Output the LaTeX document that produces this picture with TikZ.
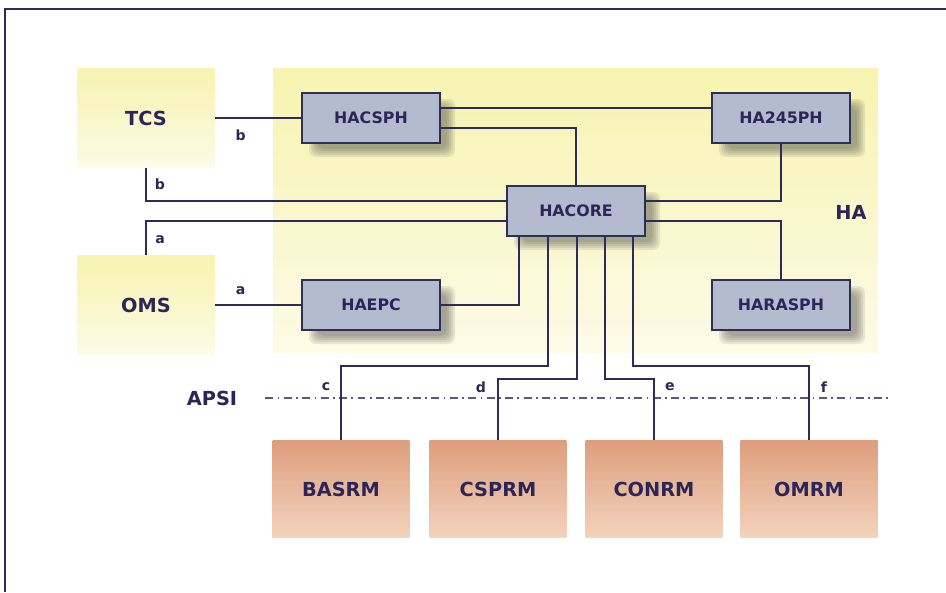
\documentclass[tikz,border=0pt]{standalone}
\usepackage{fontspec}
\setmainfont{DejaVu Sans}
\usetikzlibrary{calc}
\definecolor{linecol}{HTML}{2D2B58}
\definecolor{txtcol}{HTML}{2B2558}
\definecolor{boxgray}{HTML}{B5BBCE}
\definecolor{boxedge}{HTML}{2D2F55}
\definecolor{ylwtop}{HTML}{F7F3B0}
\definecolor{ylwbot}{HTML}{FCFBE6}
\definecolor{rmtop}{HTML}{DE9E7E}
\definecolor{rmbot}{HTML}{F2D3BC}
\definecolor{apsicol}{HTML}{555A7E}
\tikzset{
	subbox/.style={draw=boxedge, line width=1.6pt, fill=boxgray, minimum width=2.76cm, minimum height=1cm, inner sep=0pt,
		font=\fontsize{9}{10}\selectfont\bfseries, text=txtcol},
	shadowlayer/.style={fill=black!80, opacity=0.1, rounded corners=4pt},
	extbox/.style={top color=ylwtop, bottom color=ylwbot, minimum width=2.74cm, minimum height=1.98cm, inner sep=0pt,
		font=\fontsize{11}{12}\selectfont\bfseries, text=txtcol},
	rmbox/.style={top color=rmtop, bottom color=rmbot, minimum width=2.74cm, minimum height=1.94cm, inner sep=0pt,
		font=\fontsize{11}{12}\selectfont\bfseries, text=txtcol},
	conn/.style={draw=linecol, line width=1.2pt},
	tag/.style={font=\fontsize{8}{9}\selectfont\bfseries, text=txtcol, inner sep=0pt},
}
\begin{document}
\begin{tikzpicture}[x=0.02cm, y=0.02cm]
	\useasboundingbox (0,0) rectangle (946,-592);
	% 画边框
	\draw[draw=boxedge, line width=1pt] (946,-9) -- (5,-9) -- (5,-592);
	% 画HA区域
	\shade[top color=ylwtop, bottom color=ylwbot] (273,-68) rectangle (878,-352);
	\node[font=\fontsize{11}{12}\selectfont\bfseries, text=txtcol] (ha) at (851,-212) {HA};
	% 画外部模块
	\node[extbox] (tcs) at (146,-118) {TCS};
	\node[extbox] (oms) at (146,-305) {OMS};
	% 画HA子模块（带阴影）
	\foreach \n/\t/\x/\y in {hacsph/HACSPH/371/-118, haepc/HAEPC/371/-305, ha245ph/HA245PH/781/-118,
		harasph/HARASPH/781/-305, hacore/HACORE/576/-211} {
		\foreach \d in {-4,-2,0,2,4} {
			\fill[shadowlayer] (\x-69+11-\d, \y-25-10-\d) rectangle (\x+69+11+\d, \y+25-10+\d);
		}
		\node[subbox] (\n) at (\x,\y) {\t};
	}
	% 画RM模块
	\foreach \n/\t/\x in {basrm/BASRM/341, csprm/CSPRM/498, conrm/CONRM/654, omrm/OMRM/809} {
		\node[rmbox] (\n) at (\x,-489) {\t};
	}
	% 画APSI线
	\node[font=\fontsize{11}{12}\selectfont\bfseries, text=txtcol] (apsi) at (212,-398) {APSI};
	\draw[draw=apsicol, line width=1.1pt, dash pattern=on 4.5pt off 2.5pt on 1pt off 2.5pt]
		($(apsi.east)+(22,0)$) -- (890,-398);
	% 画连线
	\draw[conn] (tcs.east) -- (hacsph.west) node[tag, pos=0.3, below=6pt] {b};
	\draw[conn] ($(hacsph.east)+(0,10)$) -- ($(ha245ph.west)+(0,10)$);
	\draw[conn] ($(hacsph.east)+(0,-10)$) -| (hacore.north);
	\draw[conn] (ha245ph.south) |- ($(hacore.east)+(0,10)$);
	\draw[conn] ($(hacore.east)+(0,-10)$) -| (harasph.north);
	\draw[conn] (tcs.south) |- ($(hacore.west)+(0,10)$);
	\draw[conn] (oms.north) |- ($(hacore.west)+(0,-10)$);
	\draw[conn] (oms.east) -- (haepc.west) node[tag, pos=0.3, above=5pt] {a};
	\draw[conn] (haepc.east) -| ($(hacore.south west)+(13,0)$);
	\node[tag] at (160,-184) {b};
	\node[tag] at (160,-240) {a};
	\foreach \dx/\dy/\n in {-28/129/basrm, 1/142/csprm, 29/142/conrm, 57/129/omrm} {
		\draw[conn] ($(hacore.south)+(\dx,0)$) -- ++(0,-\dy) -| (\n.north);
	}
	% 标记符号
	\foreach \t/\x in {c/326, d/481, e/670, f/824} {
		\node[tag] at (\x,-387) {\t};
	}
\end{tikzpicture}
\end{document}
